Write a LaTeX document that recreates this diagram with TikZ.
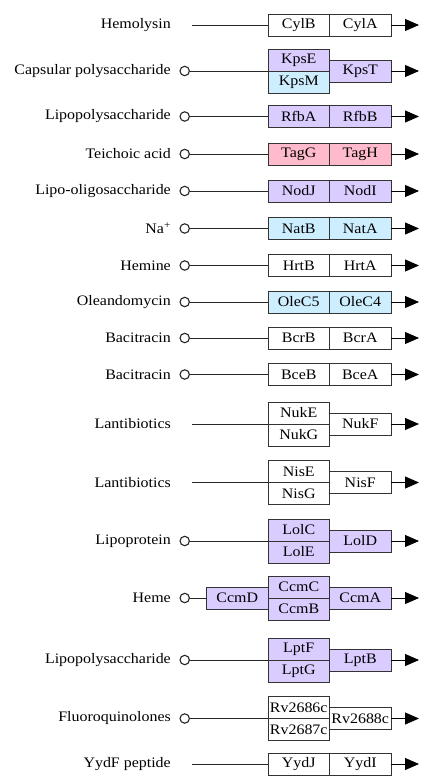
\documentclass[tikz,border=0pt]{standalone}
\usepackage{fontspec}
\setmainfont[FakeStretch=1.1]{Liberation Serif}
\usetikzlibrary{arrows.meta}
\definecolor{kpur}{HTML}{DACCFF}
\definecolor{kblu}{HTML}{CCEEFF}
\definecolor{kpnk}{HTML}{FFBBCC}
\tikzset{
  bx/.style={draw=black!80, line width=0.9pt, minimum width=61.5pt, minimum height=22pt, inner sep=0pt, outer sep=0pt, font=\fontsize{14.5}{16}\selectfont},
  lbl/.style={anchor=east, inner sep=0pt, font=\fontsize{14.5}{16}\selectfont},
  cir/.style={draw=black!85, circle, line width=1.1pt, minimum size=9.4pt, inner sep=0pt, fill=white},
  ln/.style={draw=black!85, line width=0.9pt},
  arr/.style={draw=black, line width=0.9pt, -{Triangle[length=14pt,width=12pt]}}
}
% pair row: id, y, label, left text, left fill, right text, right fill
\newcommand\prow[7]{%
  \node[lbl] (l#1) at (171,#2) {#3};
  \node[cir] (c#1) at (184.7,#2) {};
  \node[bx,fill=#5] (a#1) at (298.75,#2) {#4};
  \node[bx,fill=#7] (b#1) at (360.25,#2) {#6};
  \coordinate (t#1) at (419,#2);
  \draw[ln] (c#1) -- (a#1);
  \draw[arr] (b#1) -- (t#1);
}
% pair row without circle
\newcommand\prowN[7]{%
  \node[lbl] (l#1) at (171,#2) {#3};
  \coordinate (s#1) at (192,#2);
  \node[bx,fill=#5] (a#1) at (298.75,#2) {#4};
  \node[bx,fill=#7] (b#1) at (360.25,#2) {#6};
  \coordinate (t#1) at (419,#2);
  \draw[ln] (s#1) -- (a#1);
  \draw[arr] (b#1) -- (t#1);
}
% stack row: id, y, label, top text, top fill, bottom text, bottom fill, side text, side fill
\newcommand\srowbase[9]{%
  \node[lbl] (l#1) at (171,#2) {#3};
  \node[bx,fill=#5] (u#1) at (298.75,#2-11) {#4};
  \node[bx,fill=#7] (d#1) at (298.75,#2+11) {#6};
  \node[bx,fill=#9] (b#1) at (360.25,#2) {#8};
  \coordinate (t#1) at (419,#2);
  \draw[arr] (b#1) -- (t#1);
}
\begin{document}
\begin{tikzpicture}[x=1pt,y=-1pt]
\useasboundingbox (0,0) rectangle (428,779);
\fill[white] (0,0) rectangle (428,779);

\prowN{r1}{25}{Hemolysin}{CylB}{white}{CylA}{white}

\srowbase{r2}{71}{Capsular polysaccharide}{KpsE}{kpur}{KpsM}{kblu}{KpsT}{kpur}
\node[cir] (cr2) at (184.7,71) {};
\draw[ln] (cr2) -- (cr2 -| ur2.west);

\prow{r3}{116.5}{Lipopolysaccharide}{RfbA}{kpur}{RfbB}{kpur}
\prow{r4}{154}{Teichoic acid}{TagG}{kpnk}{TagH}{kpnk}
\prow{r5}{191}{Lipo-oligosaccharide}{NodJ}{kpur}{NodI}{kpur}
\prow{r6}{228.5}{Na\textsuperscript{+}}{NatB}{kblu}{NatA}{kblu}
\prow{r7}{265.5}{Hemine}{HrtB}{white}{HrtA}{white}
\prow{r8}{302}{Oleandomycin}{OleC5}{kblu}{OleC4}{kblu}
\prow{r9}{338}{Bacitracin}{BcrB}{white}{BcrA}{white}
\prow{r10}{374.5}{Bacitracin}{BceB}{white}{BceA}{white}

\srowbase{r11}{424}{Lantibiotics}{NukE}{white}{NukG}{white}{NukF}{white}
\coordinate (sr11) at (192,424);
\draw[ln] (sr11) -- (sr11 -| ur11.west);

\srowbase{r12}{482.5}{Lantibiotics}{NisE}{white}{NisG}{white}{NisF}{white}
\coordinate (sr12) at (192,482.5);
\draw[ln] (sr12) -- (sr12 -| ur12.west);

\srowbase{r13}{541}{Lipoprotein}{LolC}{kpur}{LolE}{kpur}{LolD}{kpur}
\node[cir] (cr13) at (184.7,541) {};
\draw[ln] (cr13) -- (cr13 -| ur13.west);

\srowbase{r14}{598}{Heme}{CcmC}{kpur}{CcmB}{kpur}{CcmA}{kpur}
\node[cir] (cr14) at (184.7,598) {};
\node[bx,fill=kpur] (er14) at (237.25,598) {CcmD};
\draw[ln] (cr14) -- (er14);

\srowbase{r15}{660}{Lipopolysaccharide}{LptF}{kpur}{LptG}{kpur}{LptB}{kpur}
\node[cir] (cr15) at (184.7,660) {};
\draw[ln] (cr15) -- (cr15 -| ur15.west);

\srowbase{r16}{718.5}{Fluoroquinolones}{Rv2686c}{white}{Rv2687c}{white}{Rv2688c}{white}
\node[cir] (cr16) at (184.7,718.5) {};
\draw[ln] (cr16) -- (cr16 -| ur16.west);

\prowN{r17}{764}{YydF peptide}{YydJ}{white}{YydI}{white}
\end{tikzpicture}
\end{document}
